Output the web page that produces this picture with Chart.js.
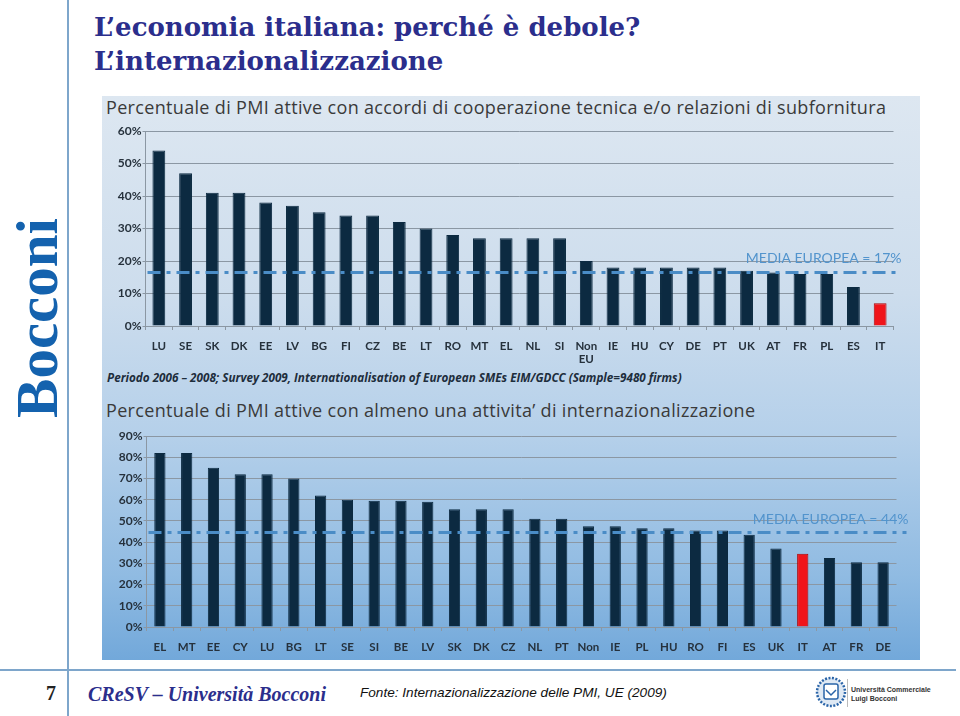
<!DOCTYPE html>
<html>
<head>
<meta charset="utf-8">
<script src="https://cdn.jsdelivr.net/npm/chart.js@4.4.0/dist/chart.umd.min.js"></script>
<style>
  html, body { margin: 0; padding: 0; background: #fff; }
  #slide { position: relative; width: 960px; height: 716px; overflow: hidden; background: #fff; }
  .abs { position: absolute; white-space: nowrap; }
  #vline { left: 67px; top: 0; width: 2px; height: 716px; background: #7ea6cb; }
  #hline { left: 0; top: 669px; width: 956px; height: 2px; background: #7ea6cb; }
  #title { left: 94px; top: 10px; font: bold 26px "DejaVu Serif", serif; line-height: 34px; color: #2b2e8c; }
  #brand { left: 37px; top: 318px; transform: translate(-50%, -50%) rotate(-90deg);
           font: bold 59px "Liberation Serif", serif; color: #1462ae; }
  #panel { left: 102px; top: 96px; width: 818px; height: 564px;
           background: linear-gradient(#dde7f1 0%, #cddded 35%, #b5d0ea 60%, #90bbe2 85%, #72a8da 100%); }
  .ctitle { font: 18px "Open Sans", sans-serif; letter-spacing: 0.33px; color: #3a3a3a; }
  #note { left: 107px; top: 369px; font: italic bold 11.7px "Open Sans", sans-serif; color: #1d2d3c; }
  #pageno { left: 46px; top: 682px; font: bold 20px "Liberation Serif", serif; color: #222; }
  #cresv { left: 88px; top: 683px; font: italic bold 20px "Liberation Serif", serif; color: #2b2e8c; }
  #fonte { left: 360px; top: 685px; font: italic 13.6px "Liberation Sans", sans-serif; color: #111; }
  #logotxt { left: 851px; top: 685px; font: bold 7px "Liberation Sans", sans-serif; color: #333; line-height: 9px; }
  canvas { position: absolute; }
</style>
</head>
<body>
<div id="slide">
  <div class="abs" id="vline"></div>
  <div class="abs" id="hline"></div>
  <div class="abs" id="title">L’economia italiana: perché è debole?<br>L’internazionalizzazione</div>
  <div class="abs" id="brand">Bocconi</div>
  <div class="abs" id="panel"></div>
  <div class="abs ctitle" style="left:106px; top:95px;">Percentuale di PMI attive con accordi di cooperazione tecnica e/o relazioni di subfornitura</div>
  <div class="abs ctitle" style="left:106px; top:398px;">Percentuale di PMI attive con almeno una attivita’ di internazionalizzazione</div>
  <div class="abs" id="note">Periodo 2006 – 2008; Survey 2009, Internationalisation of European SMEs EIM/GDCC (Sample=9480 firms)</div>
  <canvas id="topChart" style="left:102px; top:122px;" width="818" height="245"></canvas>
  <canvas id="bottomChart" style="left:102px; top:425px;" width="818" height="235"></canvas>
  <div class="abs" id="pageno">7</div>
  <div class="abs" id="cresv">CReSV – Università Bocconi</div>
  <div class="abs" id="fonte">Fonte: Internazionalizzazione delle PMI, UE (2009)</div>
  <svg class="abs" style="left:815px; top:676px;" width="32" height="32">
    <circle cx="16" cy="16" r="14" fill="#dfe9f4" stroke="#2a64a8" stroke-width="2.5" stroke-dasharray="2 1.5"/>
    <rect x="9" y="8" width="14" height="15" rx="2" fill="#ffffff" stroke="#2a64a8" stroke-width="1.5"/>
    <path d="M11 14 L16 19 L21 14" fill="none" stroke="#2a64a8" stroke-width="1.5"/>
  </svg>
  <div class="abs" style="left:847px; top:679px; width:1px; height:28px; background:#bbb;"></div>
  <div class="abs" id="logotxt">Università Commerciale<br>Luigi Bocconi</div>
</div>

<script>
// --- Grafico 1: accordi di cooperazione tecnica / subfornitura ---
const topCategories = ['LU', 'SE', 'SK', 'DK', 'EE', 'LV', 'BG', 'FI', 'CZ', 'BE', 'LT', 'RO', 'MT', 'EL', 'NL',
                       'SI', ['Non', 'EU'], 'IE', 'HU', 'CY', 'DE', 'PT', 'UK', 'AT', 'FR', 'PL', 'ES', 'IT'];
const topValues = [54, 47, 41, 41, 38, 37, 35, 34, 34, 32, 30, 28, 27, 27, 27,
                   27, 20, 18, 18, 18, 18, 18, 17, 16.5, 16, 16, 12, 7];
const topMean = 16.5;
const topMeanLabel = 'MEDIA EUROPEA = 17%';
const topTickLabels = ['0%', '10%', '20%', '30%', '40%', '50%', '60%'];

// --- Grafico 2: almeno una attivita' di internazionalizzazione ---
const bottomCategories = ['EL', 'MT', 'EE', 'CY', 'LU', 'BG', 'LT', 'SE', 'SI', 'BE', 'LV', 'SK', 'DK', 'CZ',
                          'NL', 'PT', 'Non', 'IE', 'PL', 'HU', 'RO', 'FI', 'ES', 'UK', 'IT', 'AT', 'FR', 'DE'];
const bottomValues = [82, 82, 75, 72, 72, 70, 62, 60, 59.5, 59.5, 59, 55.5, 55.5, 55.5,
                      51, 51, 47.5, 47.5, 46.5, 46.5, 45.5, 45.5, 43.5, 37, 34.5, 32.5, 30.5, 30.5];
const bottomMean = 44.5;
const bottomMeanLabel = 'MEDIA EUROPEA = 44%';
const bottomTickLabels = ['0%', '10%', '20%', '30%', '40%', '50%', '60%', '70%', '80%', '90%'];

const highlight = 'IT';
const barColor = '#0c2a41';
const highlightColor = '#f0141a';
const gridColor = '#8b97a3';

// draws the dash-dot "media europea" line through the y scale
const meanLinePlugin = {
    id: 'meanLine',
    afterDatasetsDraw(chart, args, opts) {
        const { ctx, chartArea, scales } = chart;
        const py = scales.y.getPixelForValue(opts.value);
        const xEnd = chartArea.right + opts.extend;
        ctx.save();
        ctx.strokeStyle = '#4a8cc6';
        ctx.lineWidth = 3;
        ctx.setLineDash([13, 6, 4, 6]);
        ctx.beginPath();
        ctx.moveTo(chartArea.left + 2, py);
        ctx.lineTo(xEnd, py);
        ctx.stroke();
        ctx.setLineDash([]);
        ctx.font = '14px Lato';
        ctx.fillStyle = '#5294cd';
        ctx.textAlign = 'right';
        ctx.textBaseline = 'alphabetic';
        ctx.fillText(opts.label, xEnd + opts.labelShift, py + opts.labelDy);
        ctx.restore();
    }
};

function makeChart(id, categories, values, tickLabels, max, mean, meanLabel, dims) {
    const ctx = document.getElementById(id).getContext('2d');
    const names = categories.map(c => Array.isArray(c) ? c[0] : c);
    return new Chart(ctx, {
        type: 'bar',
        data: {
            labels: categories,
            datasets: [{
                data: values,
                backgroundColor: names.map(n => n === highlight ? highlightColor : barColor),
                borderColor: names.map(n => n === highlight ? '#b00000' : barColor),
                borderWidth: 1,
                barPercentage: dims.barPct,
                categoryPercentage: 1
            }]
        },
        options: {
            responsive: false,
            animation: false,
            devicePixelRatio: 1,
            layout: { padding: { left: 0, right: dims.right, top: dims.top, bottom: 0 } },
            plugins: {
                legend: { display: false },
                tooltip: { enabled: false },
                meanLine: { value: mean, label: meanLabel, extend: dims.extend, labelShift: dims.labelShift, labelDy: dims.labelDy }
            },
            scales: {
                x: {
                    afterFit: s => { s.height = dims.xHeight; },
                    grid: { offset: true, drawOnChartArea: false, tickLength: 4, color: gridColor },
                    border: { color: gridColor },
                    ticks: {
                        autoSkip: false, maxRotation: 0, padding: 9, color: '#26313c',
                        font: { family: 'Lato', size: 11.5, weight: 'bold' }
                    }
                },
                y: {
                    min: 0, max: max,
                    afterFit: s => { s.width = dims.left; },
                    grid: { color: gridColor, tickLength: 3 },
                    border: { color: gridColor },
                    ticks: {
                        stepSize: 10, padding: 1, color: '#26313c',
                        font: { family: 'Lato', size: 12, weight: 'bold' },
                        callback: v => tickLabels[Math.round(v / 10)]
                    }
                }
            }
        },
        plugins: [meanLinePlugin]
    });
}

document.addEventListener('DOMContentLoaded', function () {
    makeChart('topChart', topCategories, topValues, topTickLabels, 60, topMean, topMeanLabel,
        { left: 43.5, right: 26.5, top: 9, xHeight: 41, barPct: 0.48, extend: 6, labelShift: 2, labelDy: -9 });
    makeChart('bottomChart', bottomCategories, bottomValues, bottomTickLabels, 90, bottomMean, bottomMeanLabel,
        { left: 44.5, right: 23.5, top: 11, xHeight: 33, barPct: 0.42, extend: 10, labelShift: 2, labelDy: -9 });
});
</script>
</body>
</html>
